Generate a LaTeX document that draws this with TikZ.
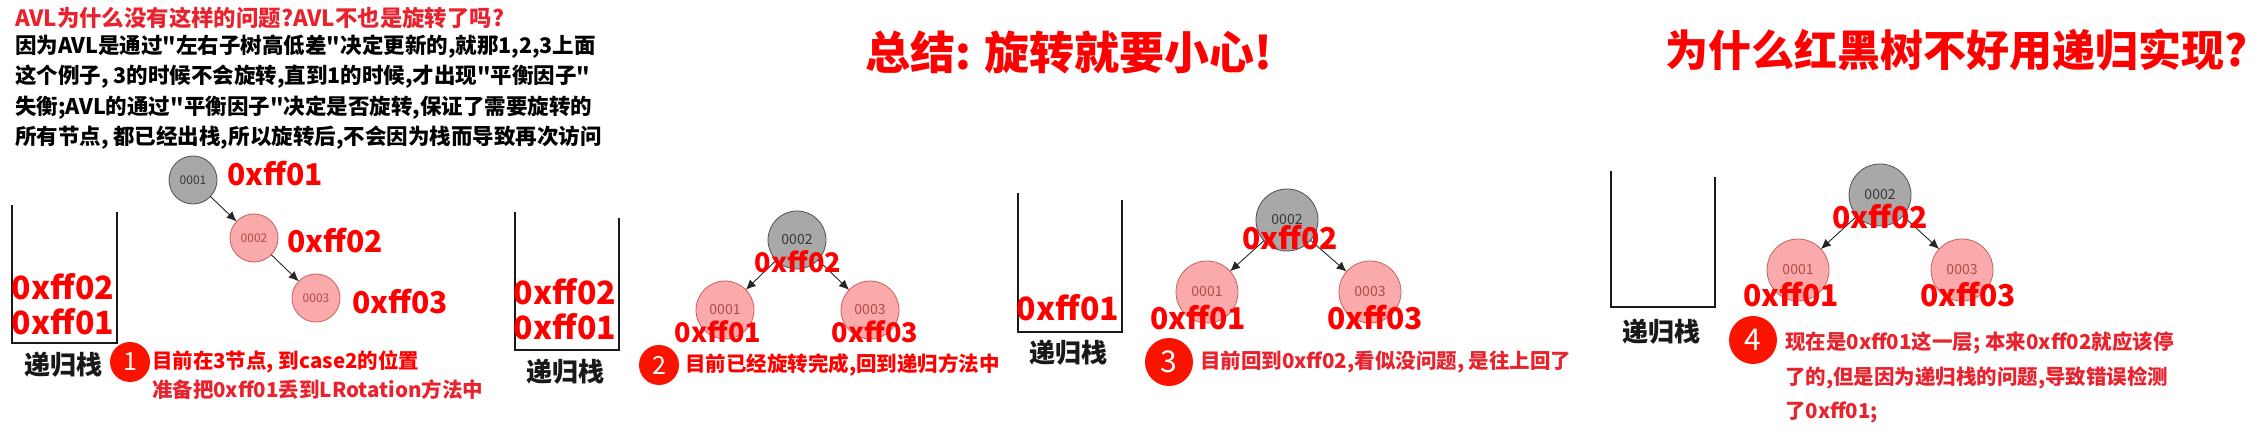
\documentclass[tikz,border=0pt]{standalone}
\usepackage{fontspec}
\setmainfont{Noto Sans CJK SC}
\usetikzlibrary{arrows.meta, positioning}
\definecolor{nodegray}{RGB}{168,168,168}
\definecolor{grayline}{RGB}{80,80,80}
\definecolor{graytext}{RGB}{55,55,55}
\definecolor{nodepink}{RGB}{250,170,170}
\definecolor{pinkline}{RGB}{200,95,95}
\definecolor{pinktext}{RGB}{175,75,75}
\definecolor{notered}{RGB}{232,35,45}
\definecolor{badgered}{RGB}{250,20,0}
\definecolor{stackcol}{RGB}{25,25,25}

\begin{document}
\begin{tikzpicture}[x=1pt, y=-1pt,
		base/.style = {inner sep=0pt, outer sep=0pt},
		gnode/.style = {circle, draw=grayline, fill=nodegray, line width=0.8pt, text=graytext, base},
		pnode/.style = {circle, draw=pinkline, fill=nodepink, line width=0.8pt, text=pinktext, base},
		small/.style = {minimum size=48pt, font=\fontsize{12}{12}\selectfont},
		big/.style = {minimum size=62pt, font=\fontsize{14}{14}\selectfont},
		addr/.style = {base, text=red, font=\fontsize{30}{30}\selectfont\bfseries},
		slot/.style = {base, text=red, font=\fontsize{32}{32}\selectfont\bfseries},
		stackline/.style = {draw=stackcol, line width=2.6pt},
		stackname/.style = {base, text=stackcol, font=\fontsize{26}{26}\selectfont\bfseries},
		badge/.style = {circle, fill=badgered, text=white, base},
		note/.style = {base, anchor=west, font=\fontsize{20.5}{20.5}\selectfont\bfseries},
		para/.style = {base, anchor=west, font=\fontsize{21.5}{21.5}\selectfont\bfseries},
		arr/.style = {-{Latex[length=10pt,width=9pt]}, line width=0.9pt, black!85}
		]
		\useasboundingbox (0,0) rectangle (2261,438);
		
		% header text
		\node (q) [para, text=notered, font=\fontsize{22.4}{22.4}\selectfont\bfseries] at (15,18) {AVL为什么没有这样的问题?AVL不也是旋转了吗?};
		\node (p1) [para] at (15,47) {因为AVL是通过\textquotedbl 左右子树高低差\textquotedbl 决定更新的,就那1,2,3上面};
		\node (p2) [para] at (15,77) {这个例子, 3的时候不会旋转,直到1的时候,才出现\textquotedbl 平衡因子\textquotedbl};
		\node (p3) [para] at (15,108) {失衡;AVL的通过\textquotedbl 平衡因子\textquotedbl 决定是否旋转,保证了需要旋转的};
		\node (p4) [para] at (15,138) {所有节点, 都已经出栈,所以旋转后,不会因为栈而导致再次访问};
		\node (sum) [para, text=red, font=\fontsize{45}{45}\selectfont\bfseries] at (865,52) {总结: 旋转就要小心!};
		\node (why) [para, text=red, font=\fontsize{43}{43}\selectfont\bfseries] at (1665,50) {为什么红黑树不好用递归实现?};
		
		% step 1
		\draw[stackline] (12,205) -- (12,343) -- (117,343) -- (117,212);
		\node (s1a) [slot] at (63,287) {0xff02};
		\node (s1b) [slot] at (63,322) {0xff01};
		\node (k1) [stackname] at (63,365) {递归栈};
		\node (n1) [gnode, small] at (193,180) {0001};
		\node (n2) [pnode, small] at (254,238) {0002};
		\node (n3) [pnode, small] at (316,298) {0003};
		\draw[arr] (n1) -- (n2);
		\draw[arr] (n2) -- (n3);
		\node (a1) [addr, right=10pt of n1, yshift=6pt] {0xff01};
		\node (a2) [addr, right=9pt of n2, yshift=-3pt] {0xff02};
		\node (a3) [addr, right=12pt of n3, yshift=-4pt] {0xff03};
		\node (c1) [badge, minimum size=40pt, font=\fontsize{25}{25}\selectfont] at (130,362) {1};
		\node (t1a) [note, text=red] at (152,362) {目前在3节点, 到case2的位置};
		\node (t1b) [note, text=notered] at (152,390) {准备把0xff01丢到LRotation方法中};
		
		% step 2
		\draw[stackline] (515,212) -- (515,350) -- (619,350) -- (619,218);
		\node (s2a) [slot] at (565,292) {0xff02};
		\node (s2b) [slot] at (565,327) {0xff01};
		\node (k2) [stackname] at (565,372) {递归栈};
		\node (r2) [gnode, minimum size=58pt, font=\fontsize{14}{14}\selectfont] at (797,240) {0002};
		\node (l2) [pnode, minimum size=58pt, font=\fontsize{14}{14}\selectfont] at (725,310) {0001};
		\node (m2) [pnode, minimum size=58pt, font=\fontsize{14}{14}\selectfont] at (870,310) {0003};
		\draw[arr] (r2) -- (l2);
		\draw[arr] (r2) -- (m2);
		\node (b2r) [addr, font=\fontsize{27}{27}\selectfont\bfseries] at (798,262) {0xff02};
		\node (b2l) [addr, font=\fontsize{27}{27}\selectfont\bfseries] at (718,332) {0xff01};
		\node (b2m) [addr, font=\fontsize{27}{27}\selectfont\bfseries] at (875,332) {0xff03};
		\node (c2) [badge, minimum size=40pt, font=\fontsize{25}{25}\selectfont] at (659,365) {2};
		\node (t2) [note, text=red, right=6pt of c2] {目前已经旋转完成,回到递归方法中};
		
		% step 3
		\draw[stackline] (1018,193) -- (1018,332) -- (1122,332) -- (1122,200);
		\node (s3a) [slot] at (1068,308) {0xff01};
		\node (k3) [stackname] at (1068,353) {递归栈};
		\node (r3) [gnode, big] at (1287,220) {0002};
		\node (l3) [pnode, big] at (1207,292) {0001};
		\node (m3) [pnode, big] at (1370,292) {0003};
		\draw[arr] (r3) -- (l3);
		\draw[arr] (r3) -- (m3);
		\node (b3r) [addr] at (1290,238) {0xff02};
		\node (b3l) [addr] at (1198,318) {0xff01};
		\node (b3m) [addr] at (1375,318) {0xff03};
		\node (c3) [badge, minimum size=48pt, font=\fontsize{30}{30}\selectfont] at (1169,362) {3};
		\node (t3) [note, text=notered, right=7pt of c3] {目前回到0xff02,看似没问题, 是往上回了};
		
		% step 4
		\draw[stackline] (1611,171) -- (1611,307) -- (1715,307) -- (1715,177);
		\node (k4) [stackname] at (1661,332) {递归栈};
		\node (r4) [gnode, big] at (1880,195) {0002};
		\node (l4) [pnode, big] at (1798,270) {0001};
		\node (m4) [pnode, big] at (1962,270) {0003};
		\draw[arr] (r4) -- (l4);
		\draw[arr] (r4) -- (m4);
		\node (b4r) [addr] at (1880,217) {0xff02};
		\node (b4l) [addr] at (1791,295) {0xff01};
		\node (b4m) [addr] at (1968,295) {0xff03};
		\node (c4) [badge, minimum size=48pt, font=\fontsize{30}{30}\selectfont] at (1753,340) {4};
		\node (t4a) [note, text=notered] at (1785,343) {现在是0xff01这一层; 本来0xff02就应该停};
		\node (t4b) [note, text=notered] at (1785,378) {了的,但是因为递归栈的问题,导致错误检测};
		\node (t4c) [note, text=notered] at (1785,412) {了0xff01;};
	\end{tikzpicture}
\end{document}
